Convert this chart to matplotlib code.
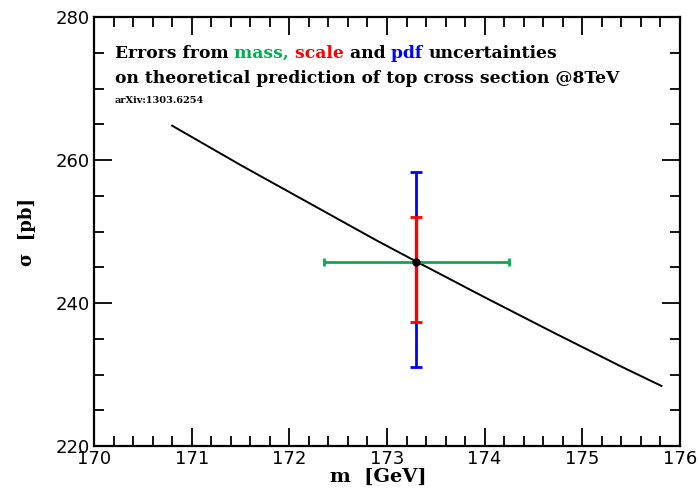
import matplotlib
matplotlib.use("Agg")
import matplotlib.pyplot as plt
from matplotlib.ticker import MultipleLocator

# theory curve sigma(m)
mass = [170.8, 171.5, 172.2, 172.9, 173.3, 174.0, 174.7, 175.4, 175.81]
sigma = [264.8, 259.3, 254.0, 248.7, 245.8, 240.8, 235.9, 231.1, 228.4]

# central point and its error bars
m0, s0 = 173.3, 245.8
mass_err = [172.35, 174.25]
scale_err = [237.4, 252.0]
pdf_err = [231.0, 258.3]

green = "#00b050"
serif = "DejaVu Serif"

fig = plt.figure(figsize=(6.98, 4.93), dpi=100)
ax = fig.add_axes([94 / 698, 1 - 446 / 493, 586 / 698, 429 / 493])

ax.plot(mass, sigma, color="black", lw=1.4)

ax.errorbar(m0, s0, yerr=[[s0 - pdf_err[0]], [pdf_err[1] - s0]],
            fmt="none", ecolor="blue", elinewidth=2, capsize=4, capthick=2)
ax.errorbar(m0, s0, yerr=[[s0 - scale_err[0]], [scale_err[1] - s0]],
            fmt="none", ecolor="red", elinewidth=2.4, capsize=4, capthick=2)
ax.errorbar(m0, s0, xerr=[[m0 - mass_err[0]], [mass_err[1] - m0]],
            fmt="none", ecolor=green, elinewidth=2, capsize=3, capthick=2)
ax.plot(m0, s0, "o", color="black", ms=5)

ax.set_xlim(170, 176)
ax.set_ylim(220, 280)
ax.xaxis.set_major_locator(MultipleLocator(1))
ax.xaxis.set_minor_locator(MultipleLocator(0.2))
ax.yaxis.set_major_locator(MultipleLocator(20))
ax.yaxis.set_minor_locator(MultipleLocator(5))
ax.tick_params(which="both", direction="in", top=True, right=True, width=1.3)
ax.tick_params(which="major", length=13, labelsize=13, pad=3)
ax.tick_params(which="minor", length=7)
for s in ax.spines.values():
    s.set_linewidth(1.6)

ax.set_xlabel("m  [GeV]", fontsize=14, family=serif, fontweight="bold")
ax.xaxis.set_label_coords(0.485, -0.052)
ax.set_ylabel("σ  [pb]", fontsize=13, family=serif, fontweight="bold", labelpad=14)

# title lines, coloured words placed one after another
fs = 12.3
x0, y1, y2 = 0.035, 0.905, 0.847
words = [("Errors from ", "black"), ("mass, ", green), ("scale ", "red"),
         ("and ", "black"), ("pdf ", "blue"), ("uncertainties", "black")]
fig.canvas.draw()
r = fig.canvas.get_renderer()
x = x0
for w, c in words:
    t = ax.text(x, y1, w, transform=ax.transAxes, fontsize=fs, family=serif,
                fontweight="bold", color=c, va="baseline")
    bb = t.get_window_extent(renderer=r)
    x += bb.width / ax.bbox.width
ax.text(x0, y2, "on theoretical prediction of top cross section @8TeV",
        transform=ax.transAxes, fontsize=fs, family=serif, fontweight="bold",
        va="baseline")
ax.text(x0, 0.8, "arXiv:1303.6254", transform=ax.transAxes, fontsize=7,
        family=serif, fontweight="bold", va="baseline")

fig.savefig("out.png", dpi=100)
